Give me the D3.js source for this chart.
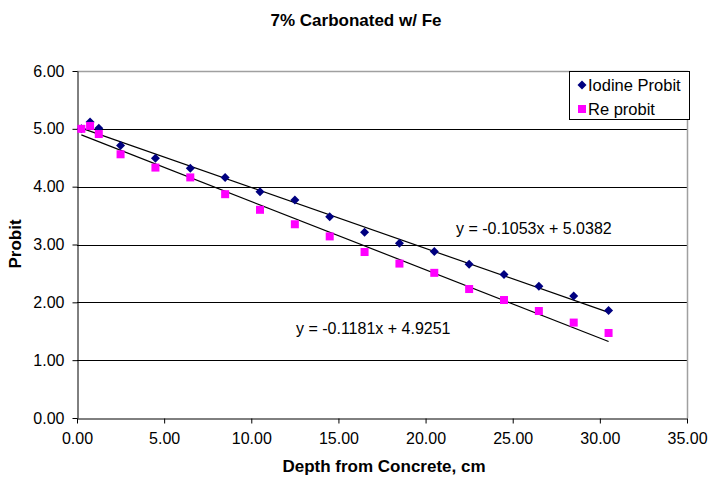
<!DOCTYPE html>
<html><head><meta charset="utf-8">
<script src="https://cdn.jsdelivr.net/npm/d3@7/dist/d3.min.js"></script>
<style>body{margin:0;background:#fff}svg{display:block;font-family:"Liberation Sans",Arial,sans-serif}</style>
</head><body><svg id="c" width="712" height="481"></svg>
<script>
const title = "7% Carbonated w/ Fe";
const xTitle = "Depth from Concrete, cm";
const yTitle = "Probit";
const depth = [0.25,0.75,1.25,2.5,4.5,6.5,8.5,10.5,12.5,14.5,16.5,18.5,20.5,22.5,24.5,26.5,28.5,30.5];
const iodine = [5.00,5.12,5.01,4.71,4.49,4.32,4.16,3.91,3.77,3.48,3.21,3.02,2.88,2.66,2.48,2.28,2.11,1.86];
const rhenium = [5.00,5.05,4.91,4.56,4.33,4.16,3.87,3.60,3.35,3.14,2.87,2.67,2.51,2.23,2.04,1.85,1.65,1.47];
const seriesNames = ["Iodine Probit","Re probit"];
const fitSlopes = [-0.1053,-0.1181];
const fitIntercepts = [5.0382,4.9251];
const fitLabels = ["y = -0.1053x + 5.0382","y = -0.1181x + 4.9251"];
const xTicks = [0,5,10,15,20,25,30,35];
const yTicks = [0,1,2,3,4,5,6];

const L=77,R=687,T=71,B=418;
const svg=d3.select("#c");
const x=d3.scaleLinear().domain([0,35]).range([L,R]);
const y=d3.scaleLinear().domain([0,6]).range([B,T]);

// gridlines
svg.append("g").selectAll("line").data(yTicks.filter(d=>d>0)).join("line")
  .attr("x1",L).attr("x2",R).attr("y1",d=>Math.round(y(d))+0.5).attr("y2",d=>Math.round(y(d))+0.5)
  .attr("stroke","#000").attr("stroke-width",1);
// plot border top/right
svg.append("path").attr("d",`M${L},${T+0.5}H${R+0.5}V${B}`).attr("fill","none").attr("stroke","#a0a0a0").attr("stroke-width",1.5);

// axes
const fmt=d3.format(".2f");
const xa=svg.append("g").attr("transform",`translate(0,${B+0.5})`)
  .call(d3.axisBottom(x).tickValues(xTicks).tickFormat(fmt).tickSize(5).tickSizeOuter(0).tickPadding(4));
const ya=svg.append("g").attr("transform",`translate(${L+0.5},0)`)
  .call(d3.axisLeft(y).tickValues(yTicks).tickFormat(fmt).tickSize(5).tickSizeOuter(0).tickPadding(8));
[xa,ya].forEach(a=>{a.selectAll("text").attr("font-size",16).attr("fill","#000").attr("font-family","Liberation Sans, Arial, sans-serif");
  a.selectAll("line,path").attr("stroke","#000");});
xa.selectAll("text").attr("dy","1em");

// trendlines
fitSlopes.forEach((m,i)=>{
  const x0=d3.min(depth),x1=d3.max(depth);
  svg.append("line").attr("x1",x(x0)).attr("y1",y(fitIntercepts[i]+m*x0))
    .attr("x2",x(x1)).attr("y2",y(fitIntercepts[i]+m*x1)).attr("stroke","#000").attr("stroke-width",1.2);
});

// iodine diamonds
const diamond=(cx,cy,r)=>`M${cx},${cy-r}L${cx+r},${cy}L${cx},${cy+r}L${cx-r},${cy}Z`;
svg.append("g").selectAll("path").data(depth.map((d,i)=>[d,iodine[i]])).join("path")
  .attr("d",d=>diamond(x(d[0]),y(d[1]),4.5)).attr("fill","#000080");
// Re squares
svg.append("g").selectAll("rect").data(depth.map((d,i)=>[d,rhenium[i]])).join("rect")
  .attr("x",d=>x(d[0])-4).attr("y",d=>y(d[1])-4).attr("width",8).attr("height",8).attr("fill","#ff00ff");

// fit labels
svg.append("text").attr("x",456).attr("y",234).attr("font-size",16).text(fitLabels[0]);
svg.append("text").attr("x",296).attr("y",334).attr("font-size",16).text(fitLabels[1]);

// legend
const lg=svg.append("g");
lg.append("rect").attr("x",569.5).attr("y",71.5).attr("width",120).attr("height",48).attr("fill","#fff").attr("stroke","#000");
lg.append("path").attr("d",diamond(582,85,4.5)).attr("fill","#000080");
lg.append("rect").attr("x",578).attr("y",105).attr("width",8).attr("height",8).attr("fill","#ff00ff");
lg.append("text").attr("x",588).attr("y",90.5).attr("font-size",16.5).text(seriesNames[0]);
lg.append("text").attr("x",588).attr("y",114.5).attr("font-size",16.5).text(seriesNames[1]);

// titles
svg.append("text").attr("x",356).attr("y",26).attr("text-anchor","middle").attr("font-size",17).attr("font-weight","bold").text(title);
svg.append("text").attr("x",384).attr("y",472).attr("text-anchor","middle").attr("font-size",17).attr("font-weight","bold").text(xTitle);
svg.append("text").attr("transform","translate(21,244) rotate(-90)").attr("text-anchor","middle").attr("font-size",17).attr("font-weight","bold").text(yTitle);
</script></body></html>
